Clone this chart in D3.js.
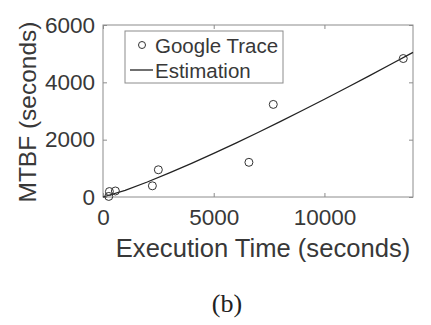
<!DOCTYPE html>
<html>
<head>
<meta charset="utf-8">
<script src="https://cdn.jsdelivr.net/npm/d3@7"></script>
<style>
  body { margin: 0; background: #fff; }
  svg { display: block; }
</style>
</head>
<body>
<svg id="chart" width="431" height="325"></svg>
<script>
// Google trace: execution time vs MTBF
const traceTime = [260, 290, 560, 2230, 2500, 6590, 7690, 13560];
const traceMtbf = [20, 190, 210, 390, 950, 1210, 3230, 4830];

// estimation curve
const estTime = [0, 1000, 2000, 3000, 4000, 5000, 6000, 7000, 8000, 9000, 10000, 11000, 12000, 13000, 14000];
const estMtbf = [0, 233, 523, 839, 1173, 1521, 1881, 2251, 2630, 3017, 3410, 3810, 4217, 4630, 5047];

const xTicks = [0, 5000, 10000];
const yTicks = [0, 2000, 4000, 6000];
const legendLabels = ['Google Trace', 'Estimation'];

const margin = {top: 25, right: 18, bottom: 128, left: 103};
const W = 431, H = 325;
const w = W - margin.left - margin.right;
const h = H - margin.top - margin.bottom;

const svg = d3.select('#chart');
const g = svg.append('g').attr('transform', `translate(${margin.left},${margin.top})`);

const x = d3.scaleLinear().domain([0, 14000]).range([0, w]);
const y = d3.scaleLinear().domain([0, 6000]).range([h, 0]);

const axisCol = '#8c8c8c', textCol = '#383838';
const font = '"Liberation Sans", Arial, sans-serif';
const fmt = d3.format('d');

// box
g.append('rect').attr('width', w).attr('height', h)
  .attr('fill', 'none').attr('stroke', axisCol).attr('stroke-width', 1);

// inward ticks on all four sides
const xb = g.append('g').attr('transform', `translate(0,${h})`)
  .call(d3.axisBottom(x).tickValues(xTicks).tickFormat(fmt).tickSizeInner(-4).tickSizeOuter(0).tickPadding(12));
const xt = g.append('g')
  .call(d3.axisTop(x).tickValues(xTicks).tickSizeInner(-4).tickSizeOuter(0).tickFormat(''));
const yl = g.append('g')
  .call(d3.axisLeft(y).tickValues(yTicks).tickFormat(fmt).tickSizeInner(-4).tickSizeOuter(0).tickPadding(8));
const yr = g.append('g').attr('transform', `translate(${w},0)`)
  .call(d3.axisRight(y).tickValues(yTicks).tickSizeInner(-4).tickSizeOuter(0).tickFormat(''));

[xb, xt, yl, yr].forEach(a => {
  a.select('.domain').remove();
  a.selectAll('line').attr('stroke', axisCol);
  a.selectAll('text').attr('fill', textCol).style('font-family', font).style('font-size', '22.5px');
});

// axis titles
g.append('text').attr('x', w / 2 + 5).attr('y', h + 60)
  .attr('text-anchor', 'middle').attr('fill', textCol)
  .style('font-family', font).style('font-size', '25.6px')
  .text('Execution Time (seconds)');
g.append('text').attr('transform', `translate(-67,${h / 2 + 1}) rotate(-90)`)
  .attr('text-anchor', 'middle').attr('fill', textCol)
  .style('font-family', font).style('font-size', '24.5px')
  .text('MTBF (seconds)');

// estimation line
const line = d3.line().x((d, i) => x(estTime[i])).y(d => y(d));
g.append('path').datum(estMtbf).attr('d', line)
  .attr('fill', 'none').attr('stroke', '#222').attr('stroke-width', 1.3);

// trace points
g.selectAll('.pt').data(traceMtbf).join('circle').attr('class', 'pt')
  .attr('cx', (d, i) => x(traceTime[i])).attr('cy', d => y(d)).attr('r', 4)
  .attr('fill', 'none').attr('stroke', '#333').attr('stroke-width', 1);

// legend
const lg = svg.append('g').attr('transform', 'translate(125,31)');
lg.append('rect').attr('width', 158).attr('height', 52)
  .attr('fill', '#fff').attr('stroke', axisCol).attr('stroke-width', 1);
lg.append('circle').attr('cx', 17).attr('cy', 14).attr('r', 3.5)
  .attr('fill', 'none').attr('stroke', '#333');
lg.append('line').attr('x1', 5).attr('x2', 28).attr('y1', 39).attr('y2', 39)
  .attr('stroke', '#222').attr('stroke-width', 1.3);
lg.selectAll('.lt').data(legendLabels).join('text').attr('class', 'lt')
  .attr('x', 30).attr('y', (d, i) => 22 + i * 25)
  .attr('fill', textCol).style('font-family', font).style('font-size', '20.5px')
  .text(d => d);

// caption
svg.append('text').attr('x', 227).attr('y', 312).attr('text-anchor', 'middle')
  .attr('fill', '#222').style('font-family', '"Liberation Serif", "Times New Roman", serif')
  .style('font-size', '26px').text('(b)');
</script>
</body>
</html>
